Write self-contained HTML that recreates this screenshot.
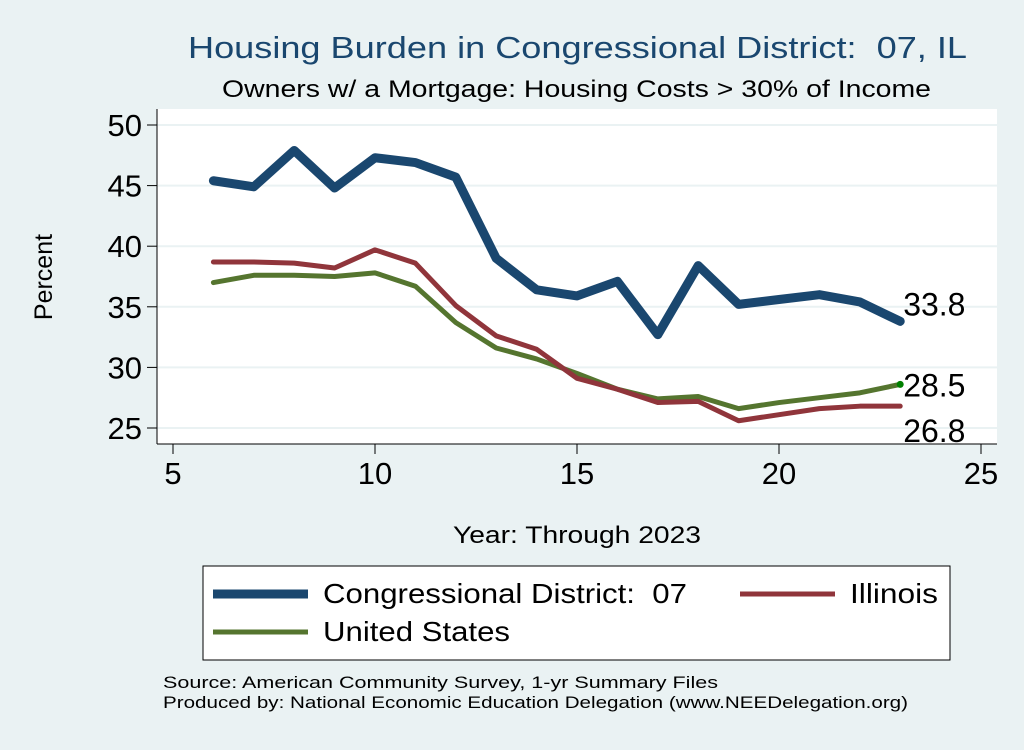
<!DOCTYPE html>
<html><head><meta charset="utf-8"><style>
body{margin:0;background:#eaf2f3;font-family:"Liberation Sans",sans-serif;}
svg text{font-family:"Liberation Sans",sans-serif;white-space:pre;}
</style></head><body>
<svg id="c" width="1024" height="745" viewBox="0 0 1024 745">
<rect x="0" y="0" width="1024" height="745" fill="#eaf2f3"/>
<rect x="157" y="109" width="840" height="335" fill="#ffffff"/>
<text x="188" y="58" font-size="31" fill="#1a476f" textLength="779" lengthAdjust="spacingAndGlyphs">Housing Burden in Congressional District:  07, IL</text>
<text x="222" y="97" font-size="24" fill="#000" textLength="709" lengthAdjust="spacingAndGlyphs">Owners w/ a Mortgage: Housing Costs &gt; 30% of Income</text>
<g id="grid"></g><g id="axes"></g><g id="series"></g>
<text x="52" y="277" font-size="25" text-anchor="middle" transform="rotate(-90 52 277)">Percent</text>
<text x="453" y="543" font-size="24" textLength="248" lengthAdjust="spacingAndGlyphs">Year: Through 2023</text>
<g>
<rect x="203" y="566" width="747" height="94" fill="#fff" stroke="#000" stroke-width="1"/>
<line x1="213" y1="594" x2="308" y2="594" stroke="#1a476f" stroke-width="9"/>
<text x="323" y="603" font-size="28" textLength="364" lengthAdjust="spacingAndGlyphs">Congressional District:  07</text>
<line x1="740" y1="594" x2="835" y2="594" stroke="#90353b" stroke-width="5"/>
<text x="850" y="603" font-size="28" textLength="88" lengthAdjust="spacingAndGlyphs">Illinois</text>
<line x1="213" y1="632" x2="308" y2="632" stroke="#55752f" stroke-width="5"/>
<text x="323" y="641" font-size="28" textLength="187" lengthAdjust="spacingAndGlyphs">United States</text>
</g>
<text x="163" y="688" font-size="17" textLength="555" lengthAdjust="spacingAndGlyphs">Source: American Community Survey, 1-yr Summary Files</text>
<text x="163" y="708" font-size="17" textLength="745" lengthAdjust="spacingAndGlyphs">Produced by: National Economic Education Delegation (www.NEEDelegation.org)</text>
</svg>
<script>
const years=[6,7,8,9,10,11,12,13,14,15,16,17,18,19,20,21,22,23];
const district=[45.4,44.9,47.9,44.8,47.3,46.9,45.7,39.0,36.4,35.9,37.1,32.7,38.4,35.2,35.6,36.0,35.4,33.8];
const illinois=[38.7,38.7,38.6,38.2,39.7,38.6,35.1,32.6,31.5,29.1,28.2,27.1,27.2,25.6,26.1,26.6,26.8,26.8];
const us=[37.0,37.6,37.6,37.5,37.8,36.7,33.7,31.6,30.7,29.5,28.2,27.4,27.6,26.6,27.1,27.5,27.9,28.6];
const endLabels=["33.8","28.5","26.8"];
const xTicks=[5,10,15,20,25];
const yTicks=[25,30,35,40,45,50];
const NS="http://www.w3.org/2000/svg";
const X=v=>173+(v-5)*(981-173)/20;
const Y=v=>428-(v-25)*(428-125)/25;
function mk(t,a,p){const e=document.createElementNS(NS,t);for(const k in a)e.setAttribute(k,a[k]);document.getElementById(p).appendChild(e);return e;}
yTicks.forEach(v=>{
 const g=mk('line',{x1:157,x2:997,y1:Y(v),y2:Y(v),stroke:'#eaf2f3','stroke-width':2},'grid');
 
 
 const t=mk('line',{x1:147,x2:157,y1:Y(v),y2:Y(v),stroke:'#000'},'axes');
 
 
 const l=mk('text',{x:142,y:Y(v)+11,'font-size':31,'text-anchor':'end'},'axes');l.textContent=v;
 
 
});
const ya=mk('line',{x1:157,x2:157,y1:109,y2:444,stroke:'#000'},'axes');


const xa=mk('line',{x1:157,x2:997,y1:444,y2:444,stroke:'#000'},'axes');


xTicks.forEach(v=>{
 const t=mk('line',{x1:X(v),x2:X(v),y1:444,y2:454,stroke:'#000'},'axes');
 
 
 const l=mk('text',{x:X(v),y:484,'font-size':31,'text-anchor':'middle'},'axes');l.textContent=v;
 
 
});
function line(d,c,w,n){
 const p=mk('polyline',{points:years.map((y,i)=>X(y)+','+Y(d[i])).join(' '),fill:'none',stroke:c,'stroke-width':w,'stroke-linejoin':'round','stroke-linecap':'round'},'series');
 
 
}
line(us,'#55752f',5,'line-united-states');
line(illinois,'#90353b',5,'line-illinois');
line(district,'#1a476f',9,'line-district');
const n=years.length-1;
const dot=mk('circle',{cx:X(years[n]),cy:Y(us[n]),r:3.5,fill:'#008000'},'series');


[[district,0,-6],[us,1,12],[illinois,2,36]].forEach(([d,i,dy])=>{
 const l=mk('text',{x:X(years[n])+3,y:Y(d[n])+dy,'font-size':32},'series');l.textContent=endLabels[i];
 
 
});
</script>
</body></html>
